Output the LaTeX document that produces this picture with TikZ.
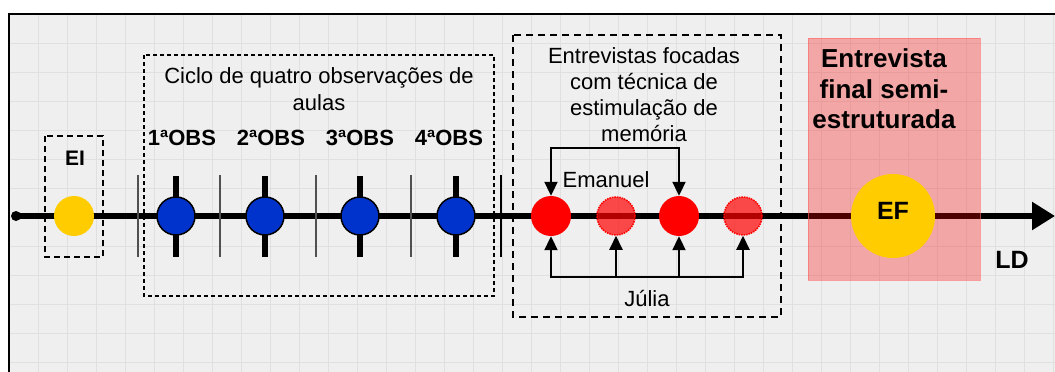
\documentclass[tikz,border=0pt]{standalone}
\usepackage{fontspec}
\setmainfont{Liberation Sans}
\usetikzlibrary{arrows.meta}
\definecolor{bggrey}{HTML}{EFEFEF}
\definecolor{gridgrey}{HTML}{E0E0E0}
\definecolor{obsblue}{HTML}{0033CC}
\definecolor{eiyellow}{HTML}{FFCC00}
\definecolor{sepgrey}{HTML}{505050}
\begin{document}
\begin{tikzpicture}[x=1pt,y=-1pt,
  gridline/.style={gridgrey,line width=0.8pt},
  timeline/.style={line width=5.5pt,-{Triangle[length=23pt,width=27pt]}},
  startdot/.style={circle,fill=black,minimum size=10pt,inner sep=0pt},
  sepline/.style={sepgrey,line width=2pt},
  obsbar/.style={line width=5.5pt},
  obsnode/.style={circle,fill=obsblue,draw=black,line width=1.5pt,minimum size=38pt,inner sep=0pt},
  yelnode/.style={circle,fill=eiyellow,minimum size=40pt,inner sep=0pt},
  efnode/.style={circle,fill=eiyellow,minimum size=84pt,inner sep=0pt},
  rednode/.style={circle,fill=red,minimum size=40pt,inner sep=0pt},
  ghostnode/.style={circle,fill=red,fill opacity=0.7,draw=red,densely dotted,line width=1.5pt,minimum size=38pt,inner sep=0pt},
  arr/.style={line width=2pt,-{Triangle[length=14pt,width=13pt]}},
  eibox/.style={dashed,line width=2pt,dash pattern=on 6pt off 4pt},
  ciclobox/.style={line width=1.2pt,dash pattern=on 4pt off 3pt},
  entbox/.style={line width=2pt,dash pattern=on 7pt off 5pt},
  txt/.style={font=\fontsize{22}{26}\selectfont,anchor=base,inner sep=0pt},
  btxt/.style={font=\fontsize{22}{26}\selectfont\bfseries,anchor=base,inner sep=0pt},
  bigtxt/.style={font=\fontsize{26}{30}\selectfont\bfseries,anchor=base,inner sep=0pt},
  lbltxt/.style={font=\fontsize{25}{30}\selectfont\bfseries,anchor=base,inner sep=0pt}
]
\useasboundingbox (0,0) rectangle (1055,372);
% background and grid
\fill[bggrey] (9,14) rectangle (1055,372);
\foreach \i in {1,...,36} \draw[gridline] ({9+29*\i},14) -- ({9+29*\i},372);
\foreach \j in {1,...,12} \draw[gridline] (9,{14+29*\j}) -- (1055,{14+29*\j});
\draw[line width=1.5pt] (1055,14) -- (9,14) -- (9,372);

% dashed group boxes
\draw[eibox] (45,136) rectangle (103,257);
\draw[ciclobox] (144,55) rectangle (494,296);
\draw[entbox] (513,35) rectangle (781,317);

% timeline
\node[startdot] (start) at (16,216) {};
\coordinate (end) at (1055,216);
\draw[timeline] (start.center) -- (end);

% separators
\draw[sepline] (138,175) -- (138,257);
\draw[sepline] (220,175) -- (220,257);
\draw[sepline] (316,175) -- (316,257);
\draw[sepline] (411,175) -- (411,257);
\draw[line width=2pt] (501,175) -- (501,257);

% observation bars
\foreach \x in {176,265,360,456} \draw[obsbar] (\x,176) -- (\x,257);

% nodes on the timeline
\node[yelnode] (ei) at (74,216) {};
\node[obsnode] (o1) at (176,216) {};
\node[obsnode] (o2) at (265,216) {};
\node[obsnode] (o3) at (360,216) {};
\node[obsnode] (o4) at (456,216) {};
\node[rednode] (r1) at (551,216) {};
\node[ghostnode] (r2) at (616,216) {};
\node[rednode] (r3) at (679,216) {};
\node[ghostnode] (r4) at (743,216) {};

% Emanuel arrows
\coordinate (etop) at (615,148);
\draw[arr] (etop) -| (r1.north);
\draw[arr] (etop) -| (r3.north);

% Julia arrows
\coordinate (jbot) at (647,277);
\draw[arr] (jbot) -| (r1.south);
\draw[arr] (jbot) -| (r4.south);
\draw[arr] (r2.south |- jbot) -- (r2.south);
\draw[arr] (r3.south |- jbot) -- (r3.south);

% final interview box
\fill[red,fill opacity=0.3] (808,38) rectangle (980,280);
\draw[red!60,line width=0.8pt,opacity=0.6] (808,38) rectangle (980,280);
\node[efnode] (ef) at (893,216) {};

% texts
\node[btxt,font=\fontsize{21}{25}\selectfont\bfseries] (eilbl) at (75,165) {EI};
\node[txt] (ciclo1) at (319,83) {Ciclo de quatro observações de};
\node[txt] (ciclo2) at (319,110) {aulas};
\node[btxt] (obs1) at (182,145) {1ªOBS};
\node[btxt] (obs2) at (271,145) {2ªOBS};
\node[btxt] (obs3) at (360,145) {3ªOBS};
\node[btxt] (obs4) at (449,145) {4ªOBS};
\node[txt] (ent1) at (644,63) {Entrevistas focadas};
\node[txt] (ent2) at (644,89) {com técnica de};
\node[txt] (ent3) at (644,115) {estimulação de};
\node[txt] (ent4) at (644,141) {memória};
\node[txt] (eman) at (606,187) {Emanuel};
\node[txt] (julia) at (647,306) {Júlia};
\node[bigtxt] (fin1) at (884,67) {Entrevista};
\node[bigtxt] (fin2) at (884,98) {final semi-};
\node[bigtxt] (fin3) at (884,128) {estruturada};
\node[lbltxt] (eflbl) at (893,219) {EF};
\node[lbltxt] (ld) at (1012,268) {LD};
\end{tikzpicture}
\end{document}
